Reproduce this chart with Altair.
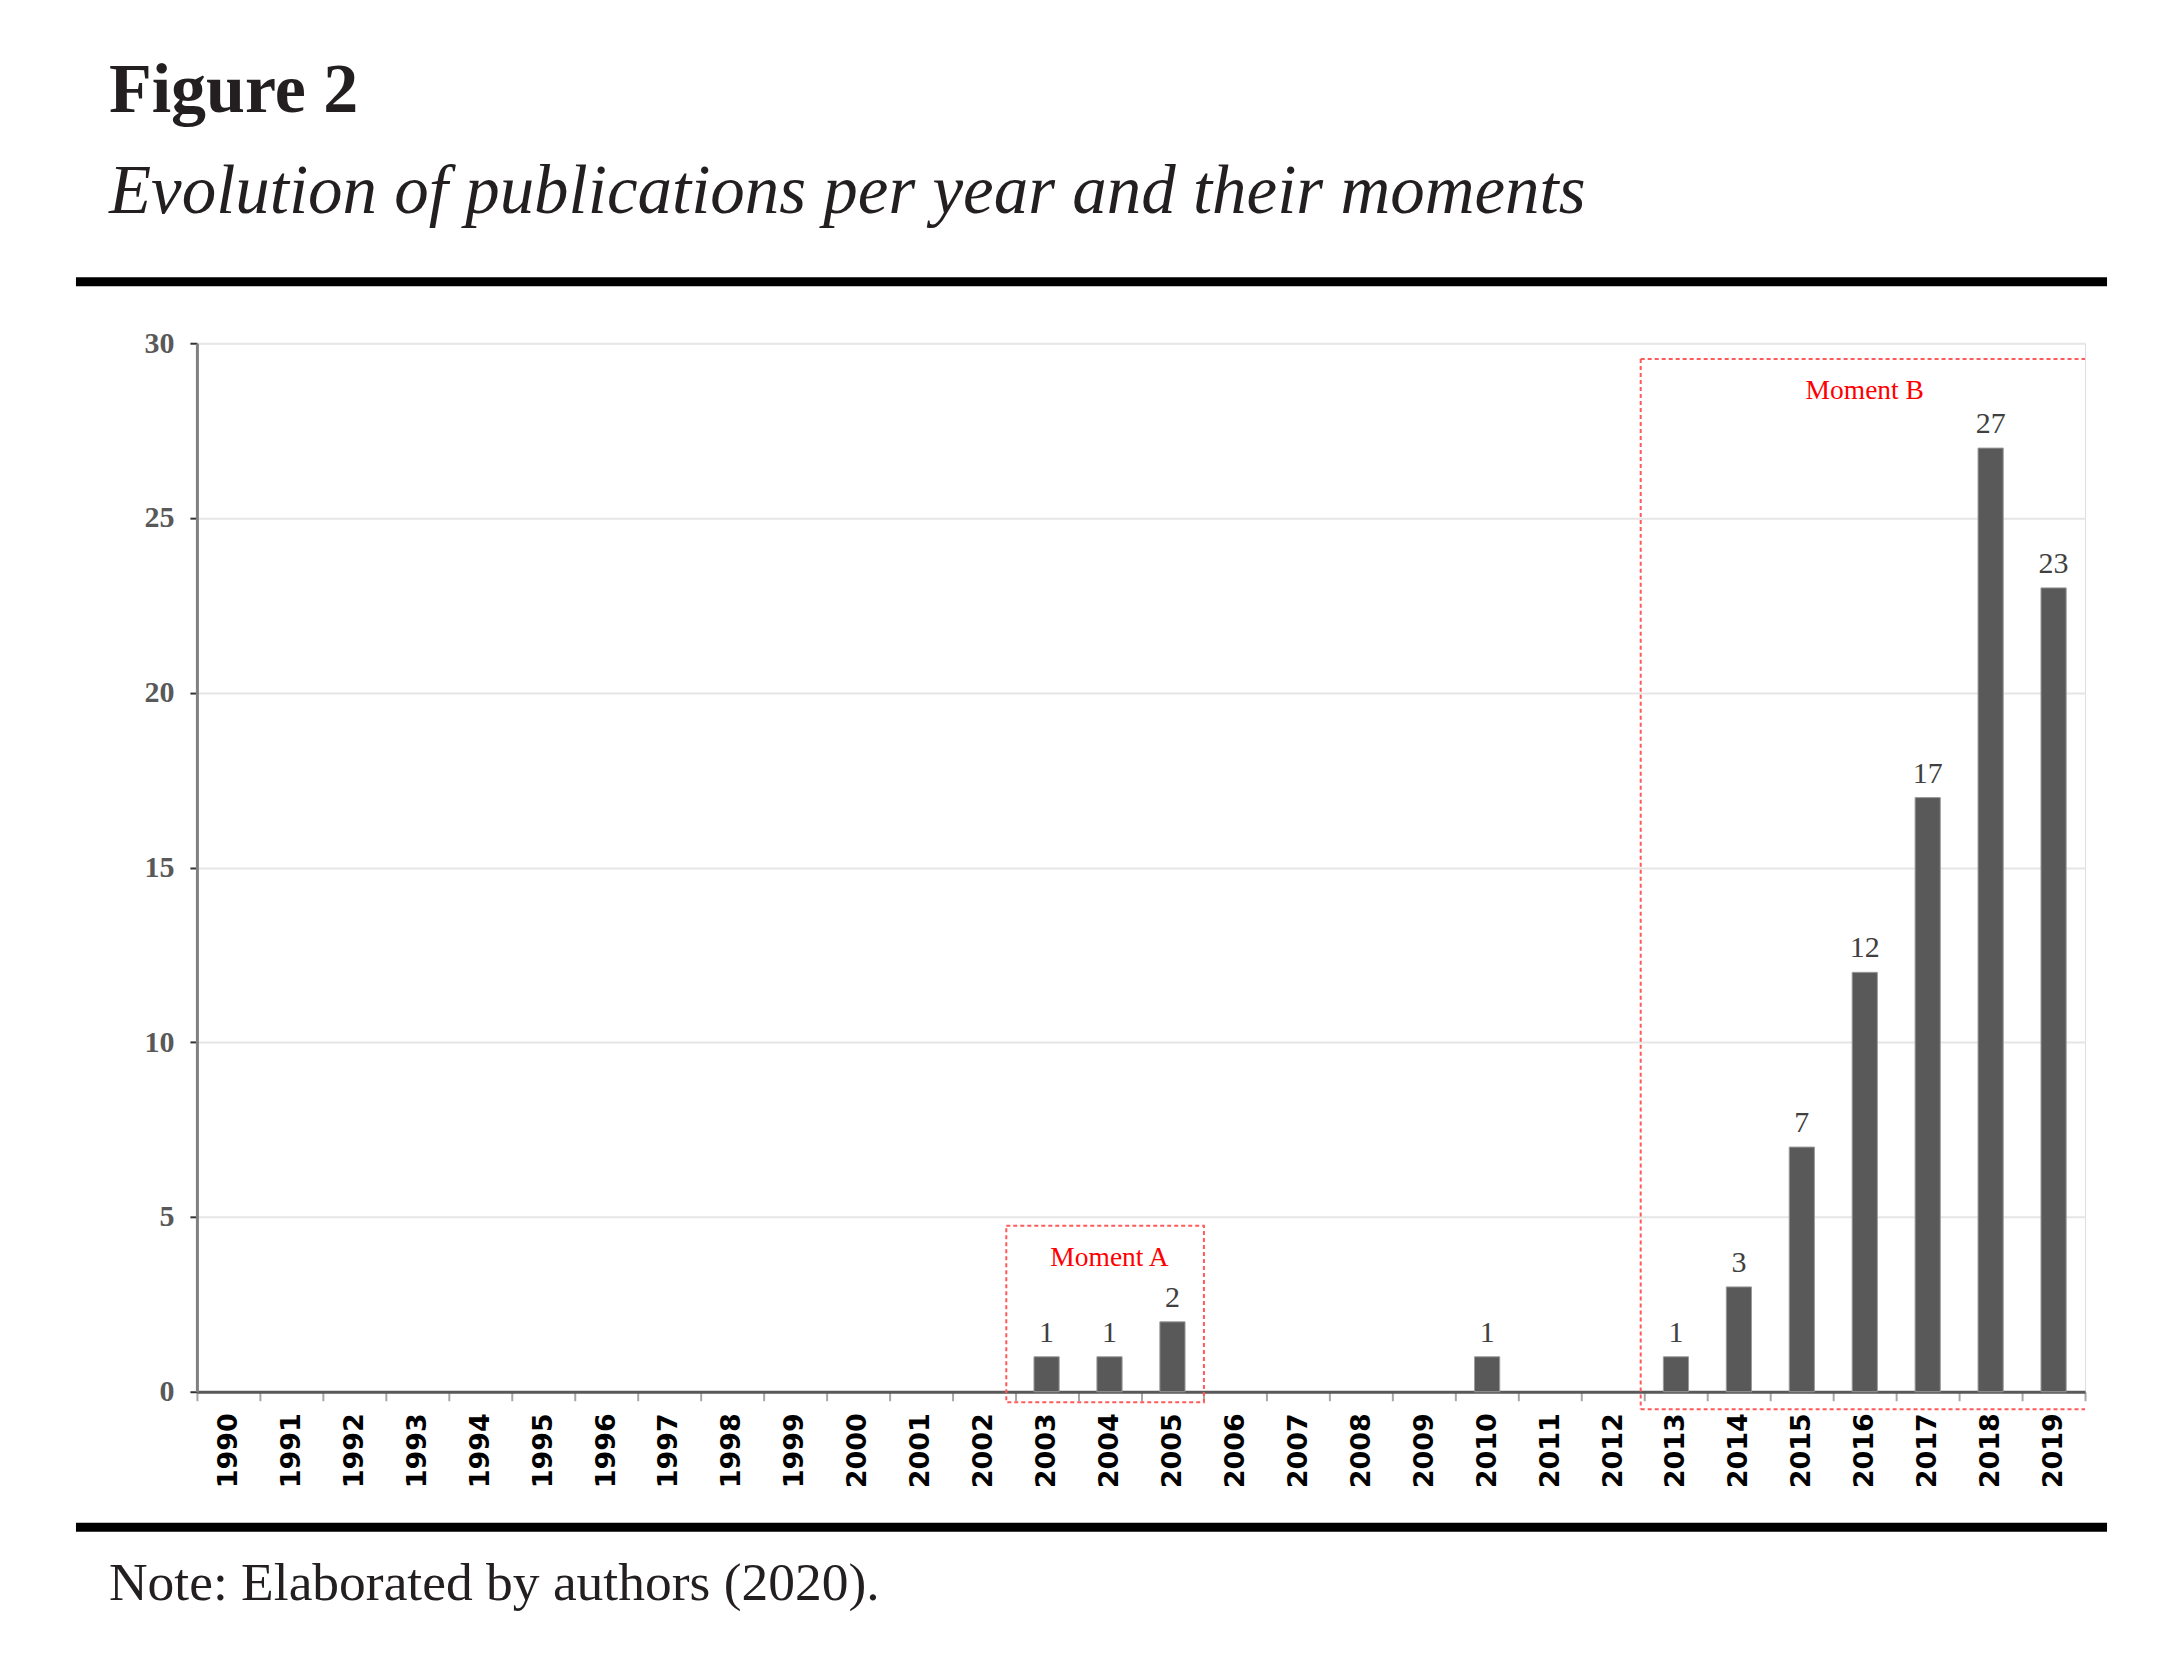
import altair as alt
import pandas as pd

# ---------------- data ----------------
years = [str(y) for y in range(1990, 2020)]
counts = [0, 0, 0, 0, 0, 0, 0, 0, 0, 0, 0, 0, 0,
          1, 1, 2, 0, 0, 0, 0, 1, 0, 0,
          1, 3, 7, 12, 17, 27, 23]

figure_label = "Figure 2"
figure_subtitle = "Evolution of publications per year and their moments"
figure_note = "Note: Elaborated by authors (2020)."

moment_names = ["Moment A", "Moment B"]
moment_label_years = ["2004", "2016"]
moment_label_y = [3.6, 28.4]

# Moment boxes (start/end year bands, top/bottom in y units)
momA_start, momA_end, momA_top, momA_bottom = "2002", "2005", 4.75, -0.3
momB_start, momB_end, momB_top, momB_bottom = "2012", "2019", 29.55, -0.5

SERIF = "Liberation Serif"

df = pd.DataFrame({"year": years, "count": counts})
df_pos = df[df["count"] > 0]

x_scale = alt.Scale(domain=years, paddingInner=0, paddingOuter=0)
y_scale = alt.Scale(domain=[0, 30], nice=False)

bars = alt.Chart(df_pos).mark_bar(
    color="#595959", stroke="#9a9a9a", strokeWidth=1,
    width=alt.RelativeBandSize(0.4)
).encode(
    x=alt.X("year:N", scale=x_scale, sort=years,
            axis=alt.Axis(tickBand="extent", labelAngle=270,
                          labelFont="DejaVu Sans", labelFontWeight="bold",
                          labelFontSize=27, labelColor="black",
                          tickSize=9, tickWidth=2, tickColor="#a6a6a6",
                          domainColor="#595959", domainWidth=3,
                          labelPadding=12, grid=False, title=None)),
    y=alt.Y("count:Q", scale=y_scale,
            axis=alt.Axis(values=[0, 5, 10, 15, 20, 25, 30],
                          tickSize=7, tickWidth=2, tickColor="#333333",
                          domainColor="#808080", domainWidth=3,
                          gridColor="#e6e6e6", gridWidth=2,
                          labelFont=SERIF, labelFontWeight="bold",
                          labelFontSize=30, labelColor="#595959",
                          labelPadding=16, title=None)),
)

value_labels = alt.Chart(df_pos).mark_text(
    font=SERIF, fontSize=30, color="#404040", baseline="alphabetic", dy=-15
).encode(
    x=alt.X("year:N", title=None),
    y=alt.Y("count:Q", title=None),
    text=alt.Text("count:Q"),
)

box_red = "#ff5a5a"

boxA = alt.Chart(pd.DataFrame({"start": [momA_start], "end": [momA_end],
                               "top": [momA_top], "bottom": [momA_bottom]})).mark_rect(
    fillOpacity=0, stroke=box_red, strokeWidth=2, strokeDash=[4, 3]
).encode(
    x=alt.X("start:N", bandPosition=0.86, title=None),
    x2=alt.X2("end:N", bandPosition=1.0),
    y=alt.Y("top:Q", title=None),
    y2=alt.Y2("bottom:Q"),
)

boxB_h = alt.Chart(pd.DataFrame({"start": [momB_start] * 2, "end": [momB_end] * 2,
                                 "yy": [momB_top, momB_bottom]})).mark_rule(
    color=box_red, strokeWidth=2, strokeDash=[4, 3]
).encode(
    x=alt.X("start:N", bandPosition=0.94, title=None),
    x2=alt.X2("end:N", bandPosition=1.0),
    y=alt.Y("yy:Q", title=None),
)

boxB_v = alt.Chart(pd.DataFrame({"start": [momB_start], "top": [momB_top],
                                 "bottom": [momB_bottom]})).mark_rule(
    color=box_red, strokeWidth=2, strokeDash=[4, 3]
).encode(
    x=alt.X("start:N", bandPosition=0.94, title=None),
    y=alt.Y("top:Q", title=None),
    y2=alt.Y2("bottom:Q"),
)

moment_text = alt.Chart(pd.DataFrame({"name": moment_names, "year": moment_label_years,
                                      "y": moment_label_y})).mark_text(
    font=SERIF, fontSize=27.5, color="#ff0000", baseline="alphabetic"
).encode(
    x=alt.X("year:N", title=None),
    y=alt.Y("y:Q", title=None),
    text="name:N",
)

# ---------------- frame: heading, rules, note ----------------
title_txt = alt.Chart(pd.DataFrame({"t": [figure_label]})).mark_text(
    font=SERIF, fontSize=70, fontWeight="bold", color="#231f20",
    align="left", baseline="alphabetic"
).encode(x=alt.value(-88), y=alt.value(-231), text="t:N")

subtitle_txt = alt.Chart(pd.DataFrame({"t": [figure_subtitle]})).mark_text(
    font=SERIF, fontSize=69, fontStyle="italic", color="#231f20",
    align="left", baseline="alphabetic"
).encode(x=alt.value(-88), y=alt.value(-130), text="t:N")

note_txt = alt.Chart(pd.DataFrame({"t": [figure_note]})).mark_text(
    font=SERIF, fontSize=53.5, color="#231f20",
    align="left", baseline="alphabetic"
).encode(x=alt.value(-88), y=alt.value(1257), text="t:N")

rule_df = pd.DataFrame({"k": [0]})
top_rule = alt.Chart(rule_df).mark_rule(color="black", strokeWidth=9).encode(
    x=alt.value(-121), x2=alt.value(1911), y=alt.value(-61.5))
bottom_rule = alt.Chart(rule_df).mark_rule(color="black", strokeWidth=9).encode(
    x=alt.value(-121), x2=alt.value(1911), y=alt.value(1184.5))

chart = alt.layer(
    bars, value_labels, boxA, boxB_h, boxB_v, moment_text,
    title_txt, subtitle_txt, note_txt, top_rule, bottom_rule
).properties(
    width=1889, height=1049,
    padding={"left": 189, "top": 335, "right": 90, "bottom": 280},
    autosize=alt.AutoSizeParams(type="none"),
).configure_view(stroke=None).configure(background="white")

chart.save("out.html", embed_options={"renderer": "svg", "actions": False})
